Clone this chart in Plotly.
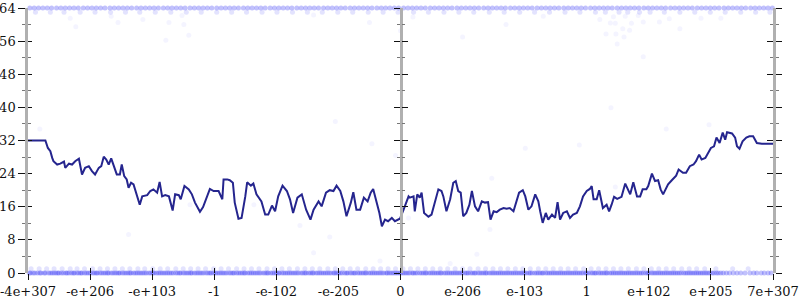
import plotly.graph_objects as go

# ---- data ----
tick_positions = list(range(13))
tick_labels = ["-4e+307", "-e+206", "-e+103", "-1", "-e-102", "-e-205", "0",
               "e-206", "e-103", "1", "e+102", "e+205", "7e+307"]
y_ticks = [0, 8, 16, 24, 32, 40, 48, 56, 64]

line_x = [0.0, 0.28, 0.32, 0.36, 0.39, 0.41, 0.47, 0.52, 0.58, 0.60, 0.66, 0.71, 0.76, 0.82, 0.87, 0.92,
          0.98, 1.03, 1.08, 1.14, 1.18, 1.22, 1.26, 1.30, 1.34, 1.38, 1.43, 1.48, 1.51, 1.55, 1.59, 1.62,
          1.66, 1.70, 1.76, 1.80, 1.84, 1.92, 1.97, 2.02, 2.08, 2.12, 2.16, 2.21, 2.27, 2.33, 2.37, 2.43,
          2.46, 2.52, 2.59, 2.64, 2.69, 2.77, 2.82, 2.87, 2.93, 2.99, 3.07, 3.13, 3.15, 3.21, 3.25, 3.30,
          3.33, 3.39, 3.44, 3.50, 3.53, 3.59, 3.63, 3.68, 3.76, 3.82, 3.87, 3.93, 3.98, 4.03, 4.10, 4.17,
          4.22, 4.27, 4.34, 4.41, 4.48, 4.55, 4.60, 4.68, 4.73, 4.80, 4.86, 4.92, 4.97, 5.03, 5.08, 5.13,
          5.20, 5.24, 5.29, 5.35, 5.41, 5.47, 5.52, 5.56, 5.62, 5.66, 5.70, 5.75, 5.80, 5.86, 5.91, 5.99,
          6.05, 6.13, 6.15, 6.21, 6.23, 6.27, 6.31, 6.34, 6.38, 6.45, 6.50, 6.56, 6.61, 6.66, 6.69, 6.74,
          6.80, 6.85, 6.89, 6.93, 6.97, 7.01, 7.06, 7.11, 7.15, 7.20, 7.25, 7.31, 7.36, 7.41, 7.45, 7.50,
          7.55, 7.60, 7.66, 7.71, 7.76, 7.82, 7.87, 7.91, 7.97, 8.01, 8.06, 8.11, 8.17, 8.22, 8.25, 8.29,
          8.34, 8.38, 8.44, 8.49, 8.53, 8.57, 8.62, 8.68, 8.73, 8.78, 8.84, 8.89, 8.94, 9.00, 9.05, 9.08,
          9.11, 9.16, 9.20, 9.26, 9.32, 9.36, 9.40, 9.44, 9.49, 9.56, 9.62, 9.65, 9.70, 9.75, 9.81, 9.86,
          9.90, 9.96, 9.99, 10.05, 10.10, 10.15, 10.19, 10.23, 10.31, 10.37, 10.44, 10.48, 10.55, 10.60,
          10.66, 10.72, 10.76, 10.81, 10.85, 10.91, 10.96, 11.00, 11.05, 11.09, 11.14, 11.19, 11.23, 11.26,
          11.34, 11.39, 11.42, 11.46, 11.51, 11.57, 11.62, 11.68, 11.74, 11.82, 12.0]
line_y = [32.0, 32.0, 30.2, 29.4, 27.8, 27.0, 26.2, 26.4, 26.9, 25.4, 26.4, 26.2, 27.0, 27.6, 23.8, 25.4,
          25.8, 24.6, 23.8, 25.4, 25.8, 28.1, 27.4, 26.2, 27.7, 25.8, 23.8, 23.8, 26.2, 23.4, 22.6, 20.6,
          21.8, 21.4, 18.5, 16.5, 18.5, 18.8, 19.8, 20.2, 19.4, 22.0, 18.5, 18.8, 18.5, 15.1, 19.0, 18.8,
          17.8, 21.0, 20.2, 19.0, 17.0, 14.8, 15.9, 17.8, 20.3, 19.8, 19.8, 17.8, 22.6, 22.6, 22.4, 21.8,
          17.0, 13.1, 13.3, 18.5, 21.9, 21.1, 21.6, 19.0, 17.3, 14.1, 14.1, 16.3, 14.9, 18.5, 21.1, 19.8,
          17.8, 14.5, 18.2, 19.0, 15.3, 12.9, 15.3, 17.3, 16.1, 19.4, 20.0, 19.8, 21.1, 19.8, 17.3, 13.7,
          17.0, 19.5, 15.3, 15.3, 18.2, 17.3, 19.4, 20.3, 17.0, 14.5, 11.3, 12.9, 12.5, 13.3, 12.5, 13.1,
          15.3, 18.5, 18.2, 18.5, 14.9, 19.0, 18.2, 19.4, 14.5, 13.6, 14.1, 17.3, 20.2, 19.8, 18.5, 14.9,
          17.8, 21.8, 22.2, 19.8, 19.4, 13.7, 14.5, 16.5, 19.8, 16.1, 14.9, 17.3, 17.0, 17.1, 12.9, 14.9,
          14.7, 15.3, 15.7, 15.5, 15.7, 14.9, 17.8, 19.4, 20.0, 18.5, 15.3, 16.1, 19.0, 17.3, 14.9, 12.1,
          14.5, 12.9, 14.1, 13.3, 17.1, 12.9, 14.5, 14.9, 13.3, 14.1, 14.5, 16.1, 18.5, 19.8, 20.3, 21.0,
          17.8, 17.8, 20.0, 15.7, 16.5, 14.9, 16.5, 18.4, 17.9, 18.4, 21.6, 20.6, 19.0, 21.9, 18.5, 18.5,
          20.2, 20.2, 21.0, 24.0, 22.2, 22.4, 20.2, 19.0, 21.4, 22.4, 23.5, 25.0, 24.2, 24.2,
          25.8, 26.2, 27.0, 28.6, 27.4, 27.8, 29.0, 30.2, 30.6, 32.7, 31.4, 33.9, 32.2, 34.0,
          33.7, 32.7, 30.6, 30.0, 31.8, 32.7, 33.0, 33.0, 31.4, 31.2, 31.2]

# faint sample points: dense rows at 0/1 and 63/64, plus sparse ones
bottom0_x = [0.02, 0.08, 0.15, 0.21, 0.26, 0.33, 0.39, 0.45, 0.5, 0.57, 0.63, 0.7, 0.75, 0.82, 0.87, 0.94,
             1.0, 1.07, 1.12, 1.19, 1.25, 1.3, 1.37, 1.43, 1.48, 1.55, 1.61, 1.66, 1.73, 1.79, 1.85, 1.91,
             1.98, 2.03, 2.1, 2.16, 2.22, 2.28, 2.34, 2.41, 2.46, 2.53, 2.59, 2.64, 2.71, 2.77, 2.83, 2.9,
             2.95, 3.02, 3.08, 3.14, 3.2, 3.27, 3.32, 3.39, 3.45, 3.5, 3.57, 3.63, 3.69, 3.75, 3.82, 3.87,
             3.94, 4.0, 4.05, 4.12, 4.18, 4.24, 4.3, 4.36, 4.43, 4.48, 4.55, 4.6, 4.67, 4.73, 4.79, 4.85,
             4.92, 4.97, 5.03, 5.1, 5.15, 5.22, 5.27, 5.34, 5.4, 5.45, 5.52, 5.58, 5.64, 5.7, 5.77, 5.82,
             5.88, 5.94, 6.0, 6.06, 6.12, 6.19, 6.24, 6.31, 6.37, 6.42, 6.49, 6.55, 6.61, 6.66, 6.73, 6.79,
             6.85, 6.91, 6.97, 7.04, 7.09, 7.16, 7.21, 7.28, 7.34, 7.39, 7.46, 7.52, 7.58, 7.64, 7.7, 7.76,
             7.82, 7.88, 7.94, 8.0, 8.07, 8.12, 8.19, 8.25, 8.3, 8.37, 8.43, 8.49, 8.55, 8.61, 8.67, 8.73,
             8.79, 8.85, 8.91, 8.98, 9.03, 9.1, 9.15, 9.22, 9.28, 9.33, 9.4, 9.46, 9.52, 9.58, 9.64, 9.7,
             9.76, 9.82, 9.88, 9.95, 10.0, 10.07, 10.13, 10.19, 10.25, 10.31, 10.37, 10.43, 10.49, 10.56,
             10.62, 10.68, 10.74, 10.8, 10.86, 10.92, 10.98, 11.05, 11.12, 11.2, 11.3, 11.42, 11.55,
             11.63, 11.74, 11.86, 11.97]
bottom0b_x = [0.04, 0.11, 0.19, 0.28, 0.36, 0.42, 0.48, 0.54, 0.61, 0.66, 0.73, 0.79, 0.85, 0.91, 0.97,
              1.04, 1.1, 1.16, 1.22, 1.28, 1.34, 1.4, 1.46, 1.52, 1.58, 1.64, 1.7, 1.76, 1.82, 1.88, 1.95,
              2.01, 2.07, 2.13, 2.19, 2.25, 2.31, 2.38, 2.44, 2.5, 2.56, 2.62, 2.68, 2.74, 2.8, 2.87,
              2.93, 2.99, 3.05, 3.11, 3.17, 3.24, 3.3, 3.36, 3.42, 3.48, 3.54, 3.6, 3.66, 3.72, 3.79,
              3.85, 3.91, 3.97, 4.03, 4.09, 4.15, 4.21, 4.27, 4.33, 4.4, 4.46, 4.52, 4.58, 4.64, 4.7,
              4.76, 4.82, 4.88, 4.94, 5.0, 5.06, 5.13, 5.19, 5.25, 5.31, 5.37, 5.43, 5.49, 5.55, 5.61,
              5.67, 5.73, 5.79, 5.85, 5.91, 5.97, 6.03, 6.09, 6.15, 6.21, 6.27, 6.34, 6.4, 6.46, 6.52,
              6.58, 6.64, 6.7, 6.76, 6.82, 6.88, 6.94, 7.0, 7.07, 7.13, 7.19, 7.25, 7.31, 7.37, 7.43,
              7.49, 7.55, 7.61, 7.67, 7.73, 7.79, 7.85, 7.91, 7.97, 8.03, 8.09, 8.16, 8.22, 8.28, 8.34,
              8.4, 8.46, 8.52, 8.58, 8.64, 8.7, 8.76, 8.82, 8.88, 8.94, 9.0, 9.07, 9.13, 9.19, 9.25,
              9.31, 9.37, 9.43, 9.49, 9.55, 9.61, 9.67, 9.73, 9.79, 9.85, 9.91, 9.98, 10.04, 10.1, 10.16,
              10.22, 10.28, 10.34, 10.4, 10.46, 10.52, 10.59, 10.65, 10.71, 10.77, 10.83, 10.89, 10.95,
              11.02, 11.09, 11.16, 11.25, 11.36, 11.48, 11.69, 11.81, 11.92]
bottom1_x = [0.05, 0.18, 0.3, 0.42, 0.55, 0.68, 0.79, 0.91, 1.04, 1.16, 1.28, 1.4, 1.52, 1.64, 1.77, 1.88,
             2.01, 2.13, 2.25, 2.38, 2.5, 2.62, 2.74, 2.86, 2.99, 3.11, 3.23, 3.36, 3.48, 3.6, 3.72, 3.85,
             3.97, 4.09, 4.21, 4.34, 4.46, 4.58, 4.7, 4.83, 4.95, 5.07, 5.19, 5.31, 5.44, 5.56, 5.68, 5.8,
             5.92, 6.04, 6.16, 6.28, 6.4, 6.52, 6.64, 6.76, 6.88, 7.0, 7.12, 7.25, 7.37, 7.49, 7.61, 7.73,
             7.85, 7.97, 8.09, 8.22, 8.34, 8.46, 8.58, 8.7, 8.82, 8.95, 9.07, 9.19, 9.31, 9.43, 9.55, 9.67,
             9.8, 9.92, 10.04, 10.16, 10.28, 10.4, 10.53, 10.65, 10.77, 10.9, 11.08, 11.35, 11.6]
top64_x = [0.03, 0.1, 0.17, 0.24, 0.31, 0.38, 0.46, 0.53, 0.6, 0.67, 0.74, 0.81, 0.89, 0.96, 1.03, 1.1,
           1.17, 1.24, 1.32, 1.39, 1.46, 1.53, 1.6, 1.67, 1.75, 1.82, 1.89, 1.96, 2.03, 2.1, 2.18, 2.25,
           2.32, 2.39, 2.46, 2.53, 2.61, 2.68, 2.75, 2.82, 2.89, 2.96, 3.04, 3.11, 3.18, 3.25, 3.32, 3.39,
           3.47, 3.54, 3.61, 3.68, 3.75, 3.82, 3.9, 3.97, 4.04, 4.11, 4.18, 4.25, 4.33, 4.4, 4.47, 4.54,
           4.61, 4.68, 4.76, 4.83, 4.9, 4.97, 5.04, 5.11, 5.19, 5.26, 5.33, 5.4, 5.47, 5.54, 5.62, 5.69,
           5.76, 5.83, 5.9, 5.97, 6.05, 6.12, 6.19, 6.26, 6.33, 6.4, 6.48, 6.55, 6.62, 6.69, 6.76, 6.83,
           6.91, 6.98, 7.05, 7.12, 7.19, 7.26, 7.34, 7.41, 7.48, 7.55, 7.62, 7.69, 7.77, 7.84, 7.91, 7.98,
           8.05, 8.12, 8.2, 8.27, 8.34, 8.41, 8.48, 8.55, 8.63, 8.7, 8.77, 8.84, 8.91, 8.98, 9.06, 9.13,
           9.2, 9.27, 9.34, 9.41, 9.49, 9.56, 9.63, 9.7, 9.77, 9.84, 9.92, 9.99, 10.06, 10.13, 10.2, 10.27,
           10.35, 10.42, 10.49, 10.56, 10.63, 10.7, 10.78, 10.85, 10.92, 10.99, 11.06, 11.13, 11.21, 11.28,
           11.35, 11.42, 11.49, 11.56, 11.64, 11.71, 11.78, 11.85, 11.92, 11.99]
top63_x = [0.12, 0.36, 0.58, 0.84, 1.08, 1.33, 1.57, 1.8, 2.05, 2.3, 2.55, 2.79, 3.04, 3.28, 3.52, 3.77,
           4.01, 4.26, 4.5, 4.74, 4.99, 5.23, 5.48, 5.72, 5.96, 6.21, 6.45, 6.7, 6.94, 7.18, 7.43, 7.67,
           7.92, 8.16, 8.4, 8.65, 8.89, 9.14, 9.3, 9.52, 9.66, 9.85, 10.02, 10.25, 10.5, 10.74, 10.99,
           11.23, 11.48, 11.72, 11.95]
sparse_x = [0.68, 0.77, 1.34, 1.45, 1.85, 2.22, 2.27, 2.48, 2.51, 2.59, 1.62, 0.19, 2.61, 3.64, 4.95,
            5.54, 5.92, 7.47, 8.01, 4.38, 6.13, 4.6, 5.67, 4.86, 6.8, 7.23, 7.44, 9.39, 8.88, 10.28,
            10.97, 9.46, 9.43, 9.62, 9.38, 9.46, 9.72, 9.31, 9.47, 9.58, 9.69, 9.6, 9.49, 9.91, 10.17,
            10.33, 10.5, 10.84, 11.16, 9.91, 9.83, 9.21, 6.0, 6.2, 5.5, 4.6, 7.0, 7.7, 8.3]
sparse_y = [61.5, 59.5, 62.0, 60.5, 61.2, 56.2, 60.5, 62.2, 60.0, 57.4, 9.3, 34.8, 16.5, 16.5, 36.6,
            31.2, 28.4, 22.9, 30.1, 11.5, 13.3, 4.9, 2.9, 8.7, 2.3, 4.5, 10.5, 39.9, 30.9, 34.8,
            35.8, 20.8, 61.9, 62.0, 60.4, 60.3, 60.3, 57.7, 57.7, 59.0, 58.6, 57.0, 55.3, 60.6, 60.6,
            61.4, 59.0, 61.5, 61.5, 52.2, 62.2, 61.2, 58.5, 61.8, 60.5, 62.3, 57.0, 60.0, 62.0]

edge_x = bottom0_x + bottom0b_x + top64_x
edge_y = [0] * (len(bottom0_x) + len(bottom0b_x)) + [64] * len(top64_x)
near_x = bottom1_x + top63_x
near_y = [1] * len(bottom1_x) + [63] * len(top63_x)

# ---- figure ----
FONT = dict(family="DejaVu Serif, serif", size=13, color="#111")
AXIS_GREY = "#b0b0b0"

fig = go.Figure()
fig.add_trace(go.Scatter(x=near_x, y=near_y, mode="markers", cliponaxis=False,
                         marker=dict(size=5, color="rgba(60,60,250,0.14)", line=dict(width=0)),
                         hoverinfo="skip", showlegend=False))
fig.add_trace(go.Scatter(x=edge_x, y=edge_y, mode="markers", cliponaxis=False,
                         marker=dict(size=5, color="rgba(50,50,245,0.3)", line=dict(width=0)),
                         hoverinfo="skip", showlegend=False))
fig.add_trace(go.Scatter(x=sparse_x, y=sparse_y, mode="markers", cliponaxis=False,
                         marker=dict(size=5, color="rgba(60,60,250,0.06)", line=dict(width=0)),
                         hoverinfo="skip", showlegend=False))
fig.add_trace(go.Scatter(x=line_x, y=line_y, mode="lines",
                         line=dict(color="#25258e", width=2), showlegend=False))

# empty traces to activate the overlay axes used for crossing ticks
for xa, ya in [("x", "y2"), ("x", "y3"), ("x", "y4"), ("x", "y5"), ("x", "y6"), ("x2", "y")]:
    fig.add_trace(go.Scatter(x=[], y=[], xaxis=xa, yaxis=ya, showlegend=False))

yr = [0, 64]
common_y = dict(range=yr, tickmode="linear", tick0=0, dtick=8, showgrid=False, zeroline=False,
                tickcolor="#111", tickwidth=1.3, automargin=False)
minor_out = dict(ticks="outside", dtick=4, tick0=0, ticklen=3, tickcolor="#777", tickwidth=1)
minor_in = dict(ticks="inside", dtick=4, tick0=0, ticklen=3, tickcolor="#777", tickwidth=1)

fig.update_layout(
    width=800, height=300,
    margin=dict(l=28, r=27, t=8, b=27, autoexpand=False),
    paper_bgcolor="white", plot_bgcolor="white",
    font=FONT,
    xaxis=dict(range=[0, 12], tickmode="array", tickvals=tick_positions, ticktext=tick_labels,
               ticks="outside", ticklen=6, tickcolor="#111", tickwidth=1.3, showgrid=False,
               zeroline=False, showline=False, tickfont=FONT, automargin=False,
               ticklabeloverflow="allow"),
    xaxis2=dict(range=[0, 12], overlaying="x", anchor="y", side="bottom", tickmode="array",
                tickvals=tick_positions, ticks="inside", ticklen=5, tickcolor="#111", tickwidth=1.3,
                showticklabels=False, showgrid=False, zeroline=False, showline=False,
                automargin=False),
    yaxis=dict(**common_y, ticks="outside", ticklen=7, showline=True, linecolor=AXIS_GREY,
               linewidth=2.5, tickfont=FONT, minor=minor_out, ticklabeloverflow="allow"),
    yaxis2=dict(**common_y, overlaying="y", anchor="x", side="left", ticks="inside", ticklen=4,
                showticklabels=False, showline=False, minor=minor_in),
    yaxis3=dict(**common_y, overlaying="y", anchor="x", side="right", ticks="outside", ticklen=6,
                showticklabels=False, showline=True, linecolor=AXIS_GREY, linewidth=2.5,
                minor=minor_out),
    yaxis4=dict(**common_y, overlaying="y", anchor="x", side="right", ticks="inside", ticklen=6,
                showticklabels=False, showline=False, minor=minor_in),
    yaxis5=dict(**common_y, overlaying="y", anchor="free", position=0.5, side="left",
                ticks="outside", ticklen=6, showticklabels=False, showline=True,
                linecolor=AXIS_GREY, linewidth=2.5, minor=minor_out),
    yaxis6=dict(**common_y, overlaying="y", anchor="free", position=0.5, side="left",
                ticks="inside", ticklen=6, showticklabels=False, showline=False, minor=minor_in),
)

fig.write_html("out.html")
